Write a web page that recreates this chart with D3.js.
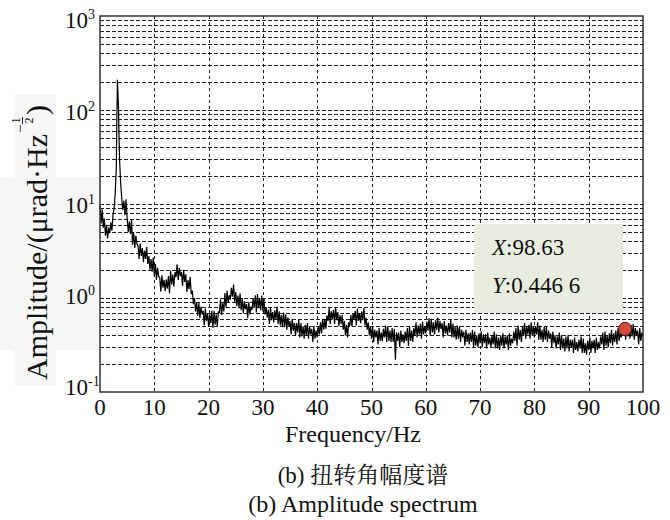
<!DOCTYPE html>
<html><head><meta charset="utf-8">
<script src="https://cdn.jsdelivr.net/npm/d3@7"></script>
<style>
html,body{margin:0;padding:0;background:#fff;}
svg text{font-family:"Liberation Serif",serif;fill:#111;}
</style></head>
<body><svg id="c" width="670" height="520"></svg>
<script>
// ---- data ----
const freqStart = 0, freqStep = 0.2;   // spectrum sample spacing (Hz)
const amplitude = [
9.6,6.2,8.8,5.6,7.0, 4.6,6.0,4.3,5.6,4.9, 6.4,5.2,7.8,8.8,13, 24,210,110,30,17,
11.5,8.6,10.8,7.6,11.2, 7.1,5.0,6.5,4.8,6.8, 3.7,5.0,3.4,4.6,3.8, 3.6,2.6,3.8,2.8,3.4,
2.4,3.2,2.6,3.5,2.3, 2.8,2.0,2.6,1.9,2.7, 1.7,2.3,1.56,2.1,1.7, 1.65,1.17,1.74,1.29,1.56,
1.18,1.57,1.26,1.71,1.12, 1.95,1.39,1.78,1.32,1.88, 1.67,2.28,1.56,2.09,1.71, 1.89,1.34,2.0,1.48,1.79,
1.16,1.55,1.24,1.68,1.1, 1.2,0.86,1.0,0.72,0.9, 0.65,0.89,0.61,0.81,0.67, 0.73,0.51,0.77,0.57,0.69,
0.5,0.67,0.54,0.73,0.48, 0.73,0.52,0.67,0.5,0.71, 0.7,0.96,0.66,0.88,0.72, 1.13,0.8,1.19,0.89,1.07,
0.96,1.28,1.03,1.39,0.91, 1.16,0.82,1.06,0.78,1.12, 0.74,1.0,0.69,0.92,0.76, 0.86,0.61,0.9,0.67,0.81,
0.74,0.99,0.79,1.07,0.7, 1.1,0.78,1.0,0.74,1.06, 0.72,0.98,0.67,0.8,0.62, 0.75,0.53,0.79,0.58,0.71,
0.55,0.74,0.59,0.81,0.53, 0.72,0.51,0.66,0.49,0.7, 0.49,0.67,0.46,0.62,0.5, 0.57,0.41,0.6,0.45,0.54,
0.4,0.54,0.43,0.59,0.38, 0.54,0.39,0.5,0.37,0.52, 0.4,0.54,0.37,0.5,0.41, 0.47,0.34,0.5,0.37,0.45,
0.38,0.5,0.41,0.55,0.42, 0.6,0.46,0.6,0.47,0.65, 0.57,0.78,0.53,0.72,0.59, 0.75,0.53,0.79,0.58,0.71,
0.5,0.66,0.53,0.66,0.46, 0.57,0.4,0.52,0.38,0.55, 0.5,0.66,0.5,0.68,0.6, 0.73,0.51,0.77,0.57,0.69,
0.54,0.72,0.58,0.78,0.51, 0.62,0.46,0.55,0.4,0.5, 0.37,0.5,0.34,0.46,0.38, 0.45,0.32,0.48,0.35,0.43,
0.35,0.47,0.38,0.51,0.34, 0.5,0.35,0.45,0.34,0.48, 0.34,0.47,0.22,0.43,0.35, 0.43,0.3,0.45,0.34,0.41,
0.33,0.44,0.35,0.48,0.31, 0.5,0.35,0.45,0.34,0.48, 0.4,0.55,0.38,0.51,0.41, 0.53,0.37,0.56,0.41,0.5,
0.42,0.56,0.45,0.61,0.4, 0.6,0.43,0.55,0.41,0.58, 0.46,0.62,0.43,0.57,0.47, 0.54,0.38,0.57,0.42,0.51,
0.4,0.54,0.43,0.59,0.38, 0.53,0.38,0.49,0.36,0.51, 0.37,0.5,0.34,0.46,0.38, 0.44,0.31,0.46,0.34,0.42,
0.32,0.43,0.34,0.46,0.3, 0.44,0.31,0.4,0.3,0.42, 0.33,0.44,0.3,0.41,0.33, 0.41,0.29,0.43,0.32,0.38,
0.3,0.4,0.32,0.44,0.29, 0.41,0.29,0.38,0.28,0.4, 0.31,0.42,0.29,0.39,0.32, 0.4,0.28,0.42,0.31,0.37,
0.33,0.44,0.35,0.48,0.31, 0.51,0.36,0.46,0.34,0.49, 0.4,0.54,0.37,0.5,0.41, 0.52,0.37,0.55,0.4,0.49,
0.38,0.5,0.41,0.55,0.36, 0.51,0.36,0.46,0.34,0.49, 0.36,0.49,0.34,0.45,0.37, 0.42,0.3,0.44,0.33,0.4,
0.29,0.39,0.32,0.43,0.28, 0.4,0.29,0.37,0.27,0.39, 0.29,0.4,0.27,0.36,0.3, 0.36,0.26,0.38,0.28,0.34,
0.27,0.36,0.29,0.39,0.26, 0.37,0.26,0.33,0.25,0.35, 0.28,0.38,0.26,0.35,0.29, 0.36,0.26,0.38,0.28,0.34,
0.29,0.39,0.32,0.43,0.28, 0.44,0.31,0.4,0.3,0.42, 0.33,0.46,0.31,0.42,0.34, 0.45,0.32,0.48,0.35,0.43,
0.38,0.5,0.41,0.55,0.36, 0.54,0.39,0.5,0.37,0.52, 0.39,0.53,0.36,0.48,0.4, 0.45,0.32,0.48,0.35,0.43,
0.4
];
const xTicks = [0,10,20,30,40,50,60,70,80,90,100];
const yTickExps = [-1,0,1,2,3];
const markerPoint = [96.7, 0.47];
const tipLines = [["X",":98.63"],["Y",":0.446 6"]];
const xLabel = "Frequency/Hz";
const yLabelMain = "Amplitude/(\u03bcrad\u00b7Hz";
const captions = ["(b) \u626d\u8f6c\u89d2\u5e45\u5ea6\u8c31","(b) Amplitude spectrum"];

// ---- layout ----
const L=100,R=643,T=16,B=392;
const SERIF="'Liberation Serif', serif";
const CJK="'Liberation Serif', 'Noto Serif CJK SC', 'Noto Sans CJK SC', serif";
const svg=d3.select("#c");
const x=d3.scaleLinear().domain([0,100]).range([L,R]);
const y=d3.scaleLog().domain([0.1,1000]).range([B,T]);
const txt=(sel)=>sel.append("text").style("font-family",SERIF);

// faint scan-like background patches
svg.append("rect").attr("x",14).attr("y",95).attr("width",42).attr("height",290).attr("fill","#f6f6f6");
svg.append("rect").attr("x",0).attr("y",177).attr("width",L).attr("height",173).attr("fill","#f6f6f6");

// grid: horizontal (major + minor)
const hLines=[];
for(let e=-1;e<3;e++){ for(let m=1;m<10;m++){ hLines.push(m*Math.pow(10,e)); } }
svg.append("g").selectAll("line").data(hLines.filter(v=>v>0.1&&v<1000)).join("line")
  .attr("x1",L).attr("x2",R).attr("y1",d=>Math.round(y(d))+0.5).attr("y2",d=>Math.round(y(d))+0.5)
  .attr("stroke","#222").attr("stroke-width",1).attr("stroke-dasharray","4,2");
// vertical grid
svg.append("g").selectAll("line").data(xTicks.filter(d=>d>0&&d<100)).join("line")
  .attr("x1",d=>Math.round(x(d))+0.5).attr("x2",d=>Math.round(x(d))+0.5).attr("y1",T).attr("y2",B)
  .attr("stroke","#222").attr("stroke-width",1).attr("stroke-dasharray","3,3");

// spectrum line
const data=amplitude.map((v,i)=>[freqStart+i*freqStep,v]);
svg.append("path").datum(data)
  .attr("d",d3.line().x(d=>x(d[0])).y(d=>y(d[1])))
  .attr("fill","none").attr("stroke","#000").attr("stroke-width",1.2);

// frame
svg.append("rect").attr("x",L).attr("y",T).attr("width",R-L).attr("height",B-T)
  .attr("fill","none").attr("stroke","#333").attr("stroke-width",1.5);

// x axis labels
svg.append("g").selectAll("text").data(xTicks).join("text").style("font-family",SERIF)
  .attr("x",d=>x(d)).attr("y",B+23).attr("text-anchor","middle").attr("font-size",23).text(d=>d);

// y axis labels
const yOff={"-1":3,"0":6,"1":9,"2":10,"3":12};
const yt=svg.append("g").selectAll("text").data(yTickExps).join("text").style("font-family",SERIF)
  .attr("x",65).attr("y",d=>y(Math.pow(10,d))+yOff[d]).attr("font-size",23);
yt.append("tspan").text("10");
yt.append("tspan").attr("font-size",14).attr("dy",-9).text(d=>d<0?"-"+(-d):d);

// y axis title (rotated)
const yg=svg.append("g").attr("transform","translate(47,243) rotate(-90)");
const ym=txt(yg).attr("font-size",30).attr("x",0).attr("y",0).text(yLabelMain);
const mainLen=ym.node().getComputedTextLength();
const totalLen=mainLen+28;
const x0=-totalLen/2;
ym.attr("x",x0);
let cx=x0+mainLen+1;
txt(yg).attr("x",cx).attr("y",-22).attr("font-size",15).text("\u2212");
cx+=9;
txt(yg).attr("x",cx+3.5).attr("y",-27).attr("font-size",12).attr("text-anchor","middle").text("1");
yg.append("line").attr("x1",cx).attr("x2",cx+7).attr("y1",-24.5).attr("y2",-24.5).attr("stroke","#111").attr("stroke-width",0.9);
txt(yg).attr("x",cx+3.5).attr("y",-14).attr("font-size",12).attr("text-anchor","middle").text("2");
cx+=9;
txt(yg).attr("x",cx).attr("y",0).attr("font-size",30).text(")");

// x title & captions
txt(svg).attr("x",353).attr("y",442).attr("text-anchor","middle").attr("font-size",24).text(xLabel);
svg.append("text").style("font-family",CJK).attr("x",363).attr("y",483).attr("text-anchor","middle").attr("font-size",23).text(captions[0]);
txt(svg).attr("x",363).attr("y",512).attr("text-anchor","middle").attr("font-size",24).text(captions[1]);

// data tip box
svg.append("rect").attr("x",474).attr("y",224).attr("width",149).attr("height",89).attr("fill","#e9ede0");
tipLines.forEach((t,i)=>{
  const tx=txt(svg).attr("x",492).attr("y",255+i*38).attr("font-size",23);
  tx.append("tspan").attr("font-style","italic").text(t[0]);
  tx.append("tspan").text(t[1]);
});
// marker
svg.append("circle").attr("cx",x(markerPoint[0])).attr("cy",y(markerPoint[1])).attr("r",6.5)
  .attr("fill","#d44b3b").attr("stroke","#5a1a12").attr("stroke-width",1);
</script></body></html>
